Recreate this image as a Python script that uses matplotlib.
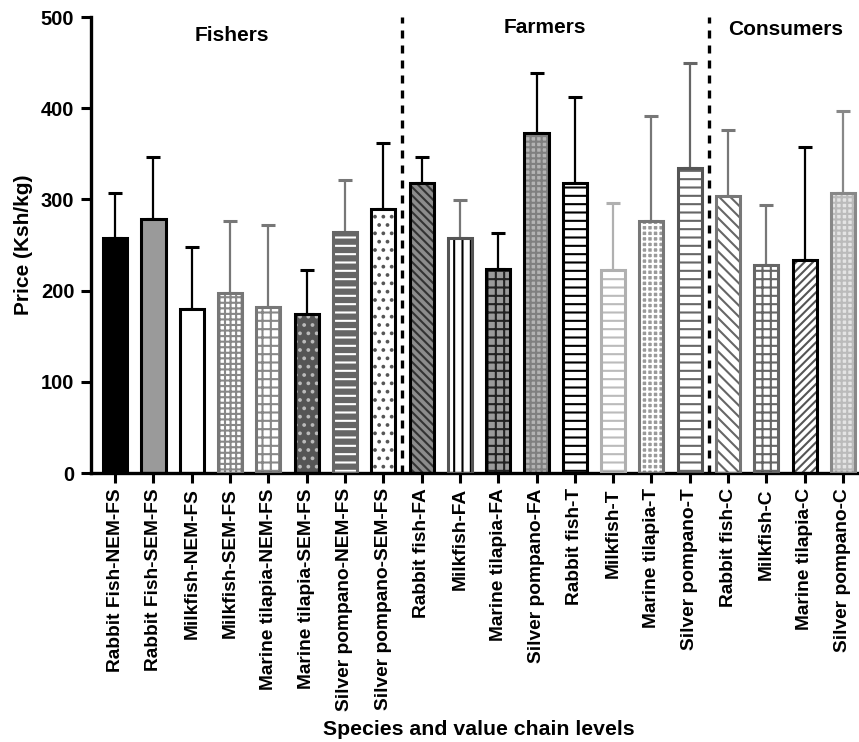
import numpy as np
import matplotlib
matplotlib.use("Agg")
import matplotlib.pyplot as plt

plt.rcParams["font.family"] = ["Liberation Sans", "DejaVu Sans"]
plt.rcParams["font.weight"] = "bold"
plt.rcParams["hatch.linewidth"] = 1.5

labels = [
    "Rabbit Fish-NEM-FS", "Rabbit Fish-SEM-FS", "Milkfish-NEM-FS", "Milkfish-SEM-FS",
    "Marine tilapia-NEM-FS", "Marine tilapia-SEM-FS", "Silver pompano-NEM-FS",
    "Silver pompano-SEM-FS", "Rabbit fish-FA", "Milkfish-FA", "Marine tilapia-FA",
    "Silver pompano-FA", "Rabbit fish-T", "Milkfish-T", "Marine tilapia-T",
    "Silver pompano-T", "Rabbit fish-C", "Milkfish-C", "Marine tilapia-C",
    "Silver pompano-C",
]
# mean price (Ksh/kg) and standard deviation per species / level
price = [258, 279, 180, 197, 182, 174, 264, 289, 318, 258,
         224, 373, 318, 223, 276, 335, 304, 228, 234, 307]
sd = [49, 68, 68, 79, 90, 49, 57, 73, 29, 41,
      39, 66, 94, 73, 116, 115, 72, 66, 124, 90]

groups = ["Fishers", "Farmers", "Consumers"]
group_pos = [(3.05, 480), (11.23, 489), (17.5, 486)]
dividers = [7.5, 15.5]

# fill, hatch, hatch colour, outline, error bar colour
faces = ["black", "#9a9a9a", "white", "white", "white", "#555555", "#666666", "white",
         "#8c8c8c", "white", "#9a9a9a", "#b4b4b4", "white", "white", "#9a9a9a", "white",
         "white", "white", "white", "#e4e4e4"]
hatches = [None, None, None, "+++", "++", "..", "--", "..",
           "\\\\\\\\", "||", "++", "+++", "--", "--", "+++", "--",
           "\\\\\\", "++", "////", "+++"]
hatch_cols = ["black", "black", "black", "#888888", "#888888", "#bbbbbb", "white", "#555555",
              "#333333", "black", "#222222", "#808080", "black", "#bbbbbb", "white", "#666666",
              "#666666", "#666666", "#555555", "#bbbbbb"]
edges = ["black", "black", "black", "#777777", "#777777", "black", "#666666", "black",
         "black", "#555555", "black", "black", "black", "#b0b0b0", "#777777", "#555555",
         "#777777", "#666666", "black", "#888888"]
err_cols = ["black", "black", "black", "#777777", "#777777", "black", "#777777", "black",
            "black", "#777777", "black", "black", "black", "#b0b0b0", "#777777", "#666666",
            "#777777", "#777777", "black", "#888888"]

x = np.arange(len(labels))
width = 0.63

fig = plt.figure(figsize=(8.59, 7.42), dpi=100)
ax = fig.add_axes([0.106, 0.3625, 0.894, 0.6145])

for i in x:
    ax.bar(i, price[i], width, color=faces[i], edgecolor=hatch_cols[i],
           hatch=hatches[i], linewidth=0, zorder=2)
    ax.bar(i, price[i], width, fill=False, edgecolor=edges[i], linewidth=2.2, zorder=3)
    ax.errorbar(i, price[i], yerr=[[0], [sd[i]]], fmt="none", ecolor=err_cols[i],
                elinewidth=1.6, capsize=5, capthick=2.2, zorder=1)

for d in dividers:
    ax.axvline(d, ymin=0, ymax=1, color="black", linewidth=2.4,
               linestyle=(0, (2.4, 2.1)), zorder=4)

for name, (gx, gy) in zip(groups, group_pos):
    ax.text(gx, gy, name, ha="center", va="center", fontsize=15, fontweight="bold")

ax.set_xlim(-0.63, 19.42)
ax.set_ylim(0, 500)
ax.set_yticks(np.arange(0, 501, 100))
ax.set_xticks(x)
ax.set_xticklabels(labels, rotation=90, fontsize=13.8, fontweight="bold")
ax.tick_params(axis="y", labelsize=14.5, width=2.2, length=7, pad=5)
ax.tick_params(axis="x", width=2.2, length=7, pad=4)

for side in ("top", "right"):
    ax.spines[side].set_visible(False)
for side in ("left", "bottom"):
    ax.spines[side].set_linewidth(2.4)

ax.set_ylabel("Price (Ksh/kg)", fontsize=15, fontweight="bold", labelpad=6)
fig.text(0.557, 0.017, "Species and value chain levels", ha="center", va="center",
         fontsize=15.3, fontweight="bold")

fig.savefig("out.png", dpi=100)
